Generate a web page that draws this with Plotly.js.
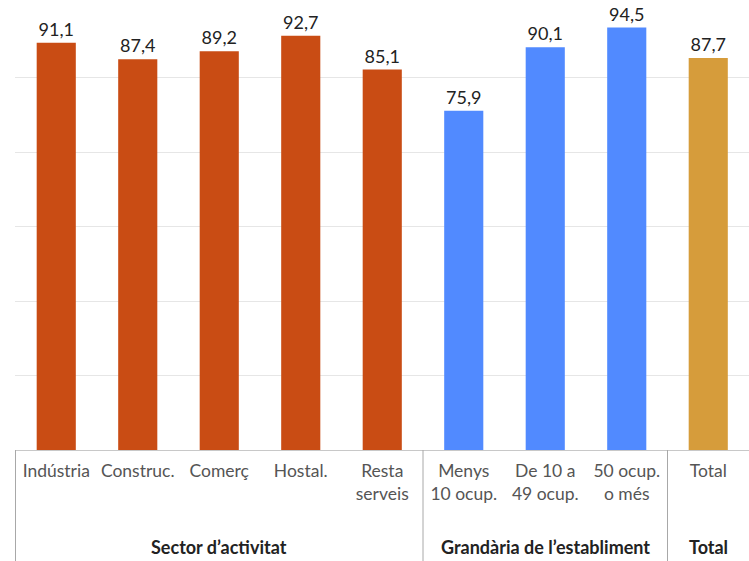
<!DOCTYPE html>
<html>
<head>
<meta charset="utf-8">
<script src="https://cdn.plot.ly/plotly-3.0.1.min.js"></script>
<style>html,body{margin:0;padding:0;background:#fff;}#chart{width:749px;height:561px;}</style>
</head>
<body>
<div id="chart"></div>
<script>
// Data
const categories = ["Indústria", "Construc.", "Comerç", "Hostal.", "Resta<br>serveis",
                    "Menys<br>10 ocup.", "De 10 a<br>49 ocup.", "50 ocup.<br>o més", "Total"];
const values = [91.1, 87.4, 89.2, 92.7, 85.1, 75.9, 90.1, 94.5, 87.7];
const groupNames = ["Sector d’activitat", "Grandària de l’establiment", "Total"];
const groupStart = [0, 5, 8];
const groupEnd = [4, 7, 8];

// Styles
const groupColors = ["#C94C14", "#518AFF", "#D69C3B"];
const barColors = categories.map((c, i) => {
  for (let g = 0; g < groupStart.length; g++) if (i >= groupStart[g] && i <= groupEnd[g]) return groupColors[g];
});

const trace = {
  type: "bar",
  x: categories,
  y: values,
  marker: {color: barColors},
  texttemplate: "%{y:.1f}",
  textposition: "outside",
  cliponaxis: false,
  textfont: {family: "Lato, sans-serif", size: 18, color: "#222"},
  hoverinfo: "skip"
};

const shapes = [];
const annotations = [];
const seps = [-0.5, 4.5, 7.5];
seps.forEach(x => shapes.push({type: "line", xref: "x", yref: "paper", x0: x, x1: x, y0: 0, y1: -0.26,
  line: {color: "#a8a8a8", width: 1}}));
groupNames.forEach((g, i) => {
  annotations.push({xref: "x", yref: "paper", x: (groupStart[i] + groupEnd[i]) / 2, y: -0.217,
    yanchor: "middle", showarrow: false, text: "<b>" + g + "</b>",
    font: {family: "Lato, sans-serif", size: 18, color: "#222"}});
});

const layout = {
  width: 749, height: 561,
  margin: {l: 15, r: 0, t: 3, b: 111},
  paper_bgcolor: "#fff", plot_bgcolor: "#fff",
  separators: ",.",
  bargap: 0.52,
  showlegend: false,
  xaxis: {
    type: "category",
    showline: true, linecolor: "#c8c8c8", linewidth: 1,
    ticks: "", ticklabelstandoff: 5,
    tickfont: {family: "Lato, sans-serif", size: 17.5, color: "#555"},
    showgrid: false, fixedrange: true
  },
  yaxis: {
    range: [0, 100], tick0: 0, dtick: 100 / 6,
    showticklabels: false, showgrid: true, gridcolor: "#e6e6e6", gridwidth: 1,
    zeroline: false, showline: false, fixedrange: true
  },
  shapes: shapes,
  annotations: annotations
};

Plotly.newPlot("chart", [trace], layout, {staticPlot: true, displayModeBar: false});
</script>
</body>
</html>
